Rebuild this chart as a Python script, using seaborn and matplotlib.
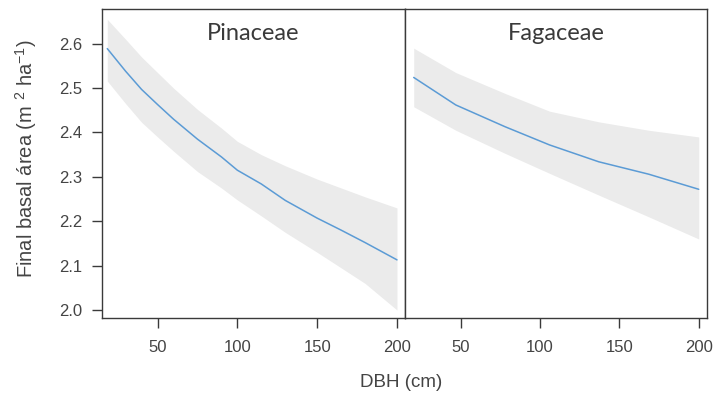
import numpy as np
import pandas as pd
import matplotlib
matplotlib.use("Agg")
import matplotlib.pyplot as plt
import seaborn as sns

# ---- data ----
families = ["Pinaceae", "Fagaceae"]

pin_dbh = [18.5, 30, 40, 50, 60, 75, 90, 100, 115, 130, 150, 165, 180, 200]
pin_fit = [2.589, 2.538, 2.497, 2.463, 2.430, 2.385, 2.345, 2.315, 2.284, 2.247,
           2.207, 2.180, 2.152, 2.113]
pin_upper = [2.655, 2.610, 2.570, 2.535, 2.500, 2.452, 2.410, 2.380, 2.350, 2.325,
             2.295, 2.275, 2.255, 2.230]
pin_lower = [2.516, 2.465, 2.423, 2.390, 2.358, 2.312, 2.275, 2.248, 2.212, 2.175,
             2.130, 2.095, 2.060, 2.000]

fag_dbh = [20.5, 47, 78, 106, 137, 168.5, 200]
fag_fit = [2.524, 2.462, 2.413, 2.372, 2.334, 2.306, 2.272]
fag_upper = [2.590, 2.535, 2.488, 2.448, 2.424, 2.405, 2.390]
fag_lower = [2.458, 2.405, 2.353, 2.308, 2.259, 2.210, 2.160]

x_ticks = [50, 100, 150, 200]
y_ticks = [2.0, 2.1, 2.2, 2.3, 2.4, 2.5, 2.6]

df = pd.concat([
    pd.DataFrame({"family": "Pinaceae", "DBH": pin_dbh, "fit": pin_fit,
                  "lower": pin_lower, "upper": pin_upper}),
    pd.DataFrame({"family": "Fagaceae", "DBH": fag_dbh, "fit": fag_fit,
                  "lower": fag_lower, "upper": fag_upper}),
], ignore_index=True)

sns.set_theme(style="ticks")
plt.rcParams["font.family"] = ["Liberation Sans", "DejaVu Sans"]
plt.rcParams["mathtext.default"] = "regular"

fig = plt.figure(figsize=(7.16, 4.13), dpi=100)
left, mid, right = 0.142, 0.5656, 0.987
bottom, top = 0.230, 0.978
axes = [fig.add_axes([left, bottom, mid - left, top - bottom]),
        fig.add_axes([mid, bottom, right - mid, top - bottom])]

frame_col = "#3a3a3a"
text_col = "#444444"
line_col = "#5b9bd5"
band_col = "#ebebeb"

for ax, fam in zip(axes, families):
    d = df[df["family"] == fam]
    ax.fill_between(d["DBH"], d["lower"], d["upper"], color=band_col, lw=0, zorder=1)
    sns.lineplot(data=d, x="DBH", y="fit", ax=ax, color=line_col, lw=1.1, zorder=2)
    ax.set_xlim(15, 205)
    ax.set_ylim(1.982, 2.678)
    ax.set_xticks(x_ticks)
    ax.set_xticklabels([str(t) for t in x_ticks])
    ax.set_xlabel("")
    ax.set_ylabel("")
    for s in ax.spines.values():
        s.set_visible(True)
        s.set_color(frame_col)
        s.set_linewidth(1.0)
    ax.tick_params(axis="both", colors=frame_col, labelcolor=text_col,
                   labelsize=12, length=7, width=1.0, direction="out")
    ax.tick_params(axis="x", pad=9)
    ax.tick_params(axis="y", pad=7)
    ax.text(0.5, 0.92, fam, transform=ax.transAxes, ha="center", va="center",
            fontsize=17, color="#3a3a3a", family=["Lato", "DejaVu Sans"])

axes[0].set_yticks(y_ticks)
axes[0].set_yticklabels([f"{t:.1f}" for t in y_ticks])
axes[1].set_yticks([])

fig.text(0.036, 0.615, "Final basal área (m $^{2}$ ha$^{-1}$)", rotation=90,
         ha="center", va="center", fontsize=14.5, color=text_col)
fig.text(0.56, 0.073, "DBH (cm)", ha="center", va="center",
         fontsize=13.5, color=text_col)

fig.savefig("out.png", dpi=100)
